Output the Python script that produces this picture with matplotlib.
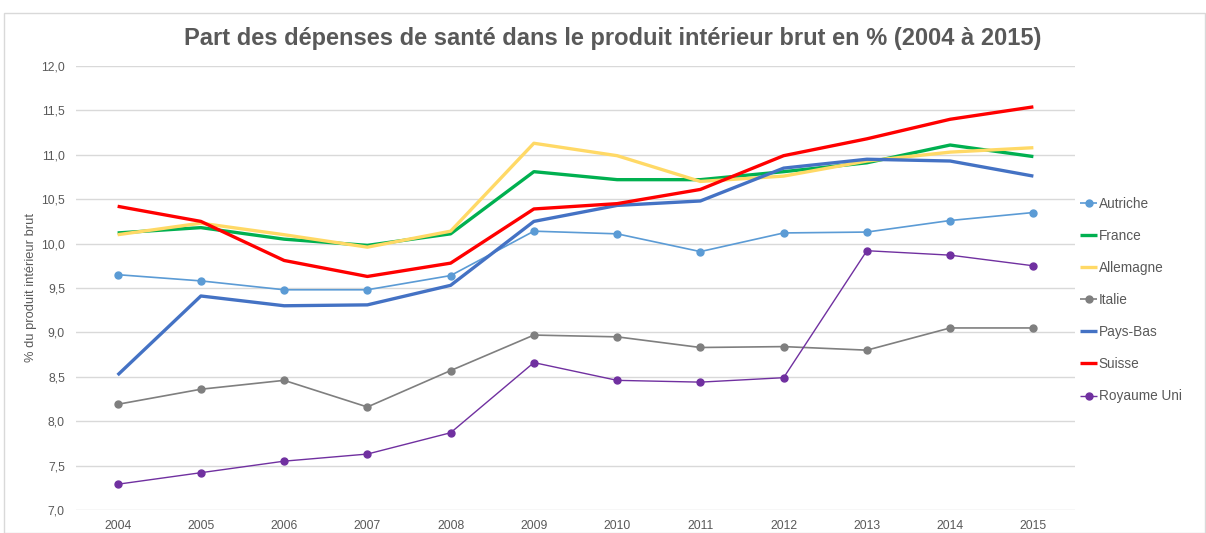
import matplotlib
matplotlib.use("Agg")
import matplotlib.pyplot as plt
from matplotlib.patches import Rectangle
from matplotlib.ticker import FuncFormatter

years = [2004, 2005, 2006, 2007, 2008, 2009, 2010, 2011, 2012, 2013, 2014, 2015]

autriche = [9.65, 9.58, 9.48, 9.48, 9.64, 10.14, 10.11, 9.91, 10.12, 10.13, 10.26, 10.35]
france = [10.12, 10.18, 10.05, 9.98, 10.11, 10.81, 10.72, 10.72, 10.81, 10.91, 11.11, 10.98]
allemagne = [10.10, 10.23, 10.10, 9.96, 10.14, 11.13, 10.99, 10.70, 10.76, 10.93, 11.03, 11.08]
italie = [8.19, 8.36, 8.46, 8.16, 8.57, 8.97, 8.95, 8.83, 8.84, 8.80, 9.05, 9.05]
pays_bas = [8.52, 9.41, 9.30, 9.31, 9.53, 10.25, 10.43, 10.48, 10.85, 10.95, 10.93, 10.76]
suisse = [10.42, 10.25, 9.81, 9.63, 9.78, 10.39, 10.45, 10.61, 10.99, 11.18, 11.40, 11.54]
royaume_uni = [7.29, 7.42, 7.55, 7.63, 7.87, 8.66, 8.46, 8.44, 8.49, 9.92, 9.87, 9.75]

names = ["Autriche", "France", "Allemagne", "Italie", "Pays-Bas", "Suisse", "Royaume Uni"]
series = [autriche, france, allemagne, italie, pays_bas, suisse, royaume_uni]
colors = ["#5B9BD5", "#00B050", "#FFD966", "#7F7F7F", "#4472C4", "#FF0000", "#7030A0"]
markers = ["o", None, None, "o", None, None, "o"]
widths = [1.2, 2.4, 2.4, 1.2, 2.4, 2.4, 1.0]

plt.rcParams["font.family"] = ["Liberation Sans", "DejaVu Sans"]

W, H = 1206, 533
fig = plt.figure(figsize=(W / 100, H / 100), dpi=100)
fig.patches.append(Rectangle((4 / W, 0), (W - 5) / W, (H - 13) / H, transform=fig.transFigure,
                             fill=False, edgecolor="#D9D9D9", linewidth=1.0))

ax = fig.add_axes([76 / W, 1 - 510 / H, (1075 - 76) / W, (510 - 66) / H])
x = list(range(len(years)))
for name, vals, c, m, lw in zip(names, series, colors, markers, widths):
    ax.plot(x, vals, color=c, marker=m, markersize=5 if m else 0, linewidth=lw, label=name,
            solid_capstyle="butt")

ax.set_xlim(-0.5, len(years) - 0.5)
ax.set_ylim(7.0, 12.0)
ax.set_xticks(x)
ax.set_xticklabels([str(y) for y in years])
ax.set_yticks([7.0 + 0.5 * i for i in range(11)])
ax.yaxis.set_major_formatter(FuncFormatter(lambda v, p: f"{v:.1f}".replace(".", ",")))
ax.grid(axis="y", color="#D9D9D9", linewidth=1.0)
ax.set_axisbelow(True)
for s in ax.spines.values():
    s.set_visible(False)
ax.tick_params(axis="both", length=0, colors="#595959", labelsize=8.8)
ax.tick_params(axis="y", pad=8)
ax.tick_params(axis="x", pad=7)
ax.set_ylabel("% du produit intérieur brut", color="#595959", fontsize=9.3, labelpad=3)

fig.text(613 / W, 1 - 38 / H, "Part des dépenses de santé dans le produit intérieur brut en % (2004 à 2015)",
         ha="center", va="center", fontsize=17, fontweight="bold", color="#595959")

leg = ax.legend(loc="upper left", bbox_to_anchor=(1.0, 0.718), frameon=False, fontsize=9.8,
                labelcolor="#595959", handlelength=1.2, handletextpad=0.15, labelspacing=1.33,
                borderaxespad=0)

fig.savefig("out.png", dpi=100)
